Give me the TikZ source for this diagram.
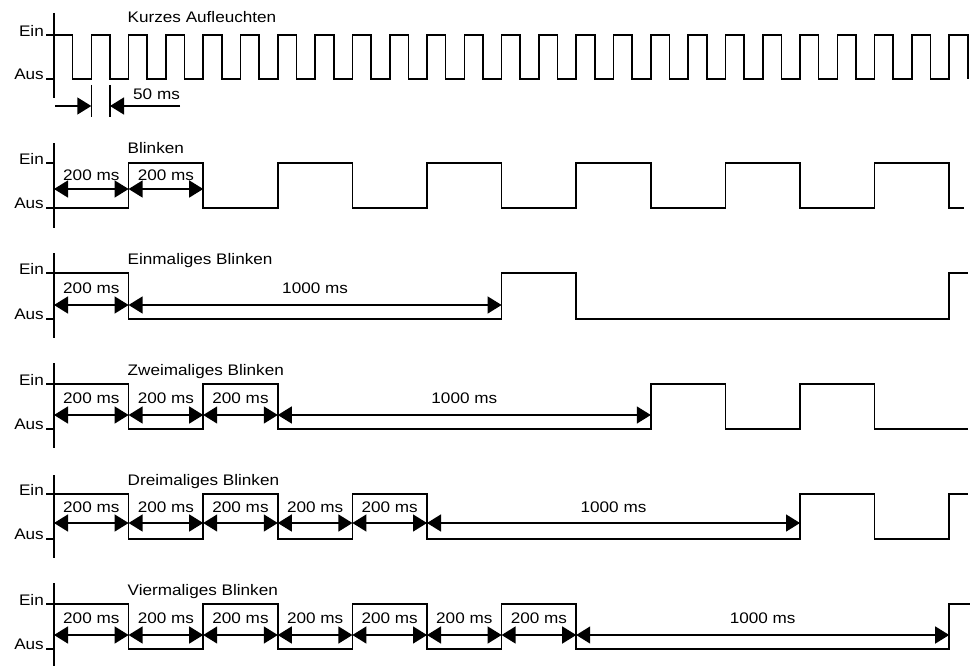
\documentclass[tikz,border=0pt]{standalone}
\usepackage{fontspec}
\setmainfont{Liberation Sans}[FakeStretch=1.12]
\usetikzlibrary{arrows.meta}
\begin{document}
\begin{tikzpicture}[x=1pt,y=-1pt,font=\fontsize{15.3}{18}\selectfont,
  sig/.style={line width=1.6pt,line join=miter},
  axisline/.style={line width=1.4pt},
  dimline/.style={line width=1.4pt,{Triangle[length=14pt,width=17pt]}-{Triangle[length=14pt,width=17pt]}},
  onetip/.style={line width=1.4pt,-{Triangle[length=14pt,width=17pt]}},
  lbl/.style={anchor=base,inner sep=0pt},
  ttl/.style={anchor=base west,inner sep=0pt},
  lvl/.style={anchor=base east,inner sep=0pt}]
\useasboundingbox (0,0) rectangle (976,666);

% axes, ticks, level labels, titles
\foreach \nm/\ein/\aus/\tb/\ya/\yb/\titletext in {
  ka/35/79/23/13/98/Kurzes Aufleuchten,
  bl/163/208/153/143/228/Blinken,
  ei/273/319/264/253/338/Einmaliges Blinken,
  zw/384/429/375/363/448/Zweimaliges Blinken,
  dr/494/539/485/475/558/Dreimaliges Blinken,
  vi/604/649/595/583/666/Viermaliges Blinken} {
  \coordinate (ax-\nm-t) at (54,\ya);
  \coordinate (ax-\nm-b) at (54,\yb);
  \coordinate (tk-\nm-e) at (46,\ein);
  \coordinate (tk-\nm-a) at (46,\aus);
  \coordinate (ax-\nm-e) at (54,\ein);
  \coordinate (ax-\nm-a) at (54,\aus);
  \draw[axisline] (ax-\nm-t) -- (ax-\nm-b);
  \draw[axisline] (tk-\nm-e) -- (ax-\nm-e);
  \draw[axisline] (tk-\nm-a) -- (ax-\nm-a);
  \node[lvl] (ein-\nm) at (44,\ein+1.5) {Ein};
  \node[lvl] (aus-\nm) at (44,\aus+0.5) {Aus};
  \node[ttl] (title-\nm) at (127.5,\tb) {\titletext};
}

% Kurzes Aufleuchten waveform
\draw[sig] (54,35) \foreach \k in {0,...,23} {
  -- ({54+37.3*\k+18.65},35) -- ({54+37.3*\k+18.65},79)
  -- ({54+37.3*(\k+1)},79) -- ({54+37.3*(\k+1)},35) }
  -- (967.9,35) -- (967.9,79);

% 50 ms marker
\coordinate (m1t) at (91.3,85);
\coordinate (m1b) at (91.3,117);
\coordinate (m2t) at (110,85);
\coordinate (m2b) at (110,117);
\coordinate (a1s) at (55,106);
\coordinate (a1e) at (91.3,106);
\coordinate (a2s) at (180,106);
\coordinate (a2e) at (110,106);
\draw[axisline] (m1t) -- (m1b);
\draw[axisline] (m2t) -- (m2b);
\draw[onetip] (a1s) -- (a1e);
\draw[onetip] (a2s) -- (a2e);
\node[anchor=base west,inner sep=0pt] (fifty) at (133,100) {50 ms};

% Blinken
\draw[sig] (54,208) -| (128.6,163) -| (203.2,208) -| (277.8,163) -| (352.4,208)
  -| (427,163) -| (501.6,208) -| (576.2,163) -| (650.8,208) -| (725.4,163)
  -| (800,208) -| (874.6,163) -| (949.2,208) -- (964,208);
% Einmaliges
\draw[sig] (54,273) -| (128.6,319) -| (501.6,273) -| (576.2,319) -| (949.2,273) -- (968,273);
% Zweimaliges
\draw[sig] (54,384) -| (128.6,429) -| (203.2,384) -| (277.8,429) -| (650.8,384)
  -| (725.4,429) -| (800,384) -| (874.6,429) -- (968,429);
% Dreimaliges
\draw[sig] (54,494) -| (128.6,539) -| (203.2,494) -| (277.8,539) -| (352.4,494)
  -| (427,539) -| (800,494) -| (874.6,539) -| (949.2,494) -- (968,494);
% Viermaliges
\draw[sig] (54,604) -| (128.6,649) -| (203.2,604) -| (277.8,649) -| (352.4,604)
  -| (427,649) -| (501.6,604) -| (576.2,649) -| (949.2,604) -- (970,604);

% dimension arrows
\foreach \r/\y/\lb/\n in {bl/189/180/2, ei/305/293/1, zw/415/403/3, dr/523/512/5, vi/635/623/7} {
  \foreach \i in {0,...,12} \coordinate (\r\i) at ({54+74.6*\i},\y);
  \foreach \i in {1,...,\n} {
    \pgfmathtruncatemacro\k{\i-1}
    \draw[dimline] (\r\k) -- (\r\i);
    \node[lbl] (\r-l\i) at ({54+74.6*(\i-0.5)},\lb) {200 ms};
  }
}
\foreach \r/\lb/\n in {ei/293/1, zw/403/3, dr/512/5, vi/623/7} {
  \pgfmathtruncatemacro\m{\n+5}
  \draw[dimline] (\r\n) -- (\r\m);
  \node[lbl] (\r-long) at ({54+74.6*(\n+2.5)},\lb) {1000 ms};
}
\end{tikzpicture}
\end{document}
